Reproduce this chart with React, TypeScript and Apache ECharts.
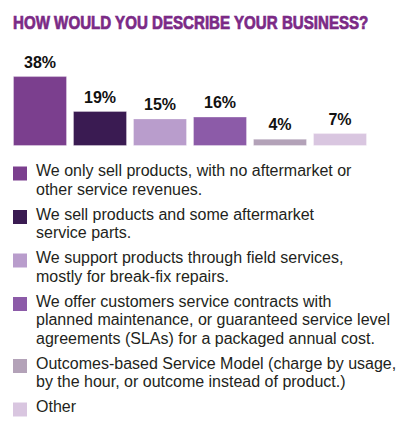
import React, { useEffect, useRef } from "react";
import * as echarts from "echarts";

const titleText = "HOW WOULD YOU DESCRIBE YOUR BUSINESS?";
const categories = [
  "Products only",
  "Products and parts",
  "Field services",
  "Service contracts",
  "Outcomes-based",
  "Other",
];
const values = [38, 19, 15, 16, 4, 7];
const barColors = ["#7b3f8e", "#3a1b52", "#b99dcc", "#8c5ba8", "#b3a2b8", "#d9c6e0"];
const legendLines = [
  ["We only sell products, with no aftermarket or", "other service revenues."],
  ["We sell products and some aftermarket", "service parts."],
  ["We support products through field services,", "mostly for break-fix repairs."],
  [
    "We offer customers service contracts with",
    "planned maintenance, or guaranteed service level",
    "agreements (SLAs) for a packaged annual cost.",
  ],
  [
    "Outcomes-based Service Model (charge by usage,",
    "by the hour, or outcome instead of product.)",
  ],
  ["Other"],
];

export default function App() {
  const ref = useRef<HTMLDivElement>(null);
  useEffect(() => {
    if (!ref.current) return;
    const chart = echarts.init(ref.current, undefined, { renderer: "svg" });

    const lineH = 18.5;
    const gap = 6.5;
    let center = 170.5;
    const legendGraphics: any[] = [];
    legendLines.forEach((lines, i) => {
      legendGraphics.push({
        type: "rect",
        shape: { x: 13, y: center - 4, width: 14, height: 14 },
        style: { fill: barColors[i] },
      });
      legendGraphics.push({
        type: "text",
        x: 36,
        y: center - lineH / 2,
        style: {
          text: lines.join("\n"),
          font: "16px 'Liberation Sans', Arial, sans-serif",
          fill: "#231f20",
          lineHeight: lineH,
          verticalAlign: "top",
          align: "left",
        },
      });
      center += lines.length * lineH + gap;
    });

    chart.setOption({
      animation: false,
      grid: { left: 10, width: 360, top: 72.4, height: 73.6 },
      xAxis: {
        type: "category",
        data: categories,
        show: false,
      },
      yAxis: { type: "value", min: 0, max: 40, show: false },
      series: [
        {
          type: "bar",
          barCategoryGap: "10%",
          data: values.map((v, i) => ({
            value: v,
            itemStyle: { color: barColors[i] },
          })),
          itemStyle: { borderColor: "rgba(255,255,255,0.3)", borderWidth: 1 },
          label: {
            show: true,
            position: "top",
            distance: 6,
            formatter: "{c}%",
            fontFamily: "'Liberation Sans', Arial, sans-serif",
            fontWeight: "bold",
            fontSize: 16,
            color: "#111111",
          },
        },
      ],
      graphic: [
        {
          type: "text",
          x: 13,
          y: 23,
          scaleX: 0.84,
          style: {
            text: titleText,
            font: "bold 18px 'Liberation Sans', Arial, sans-serif",
            fill: "#7b2a86",
            stroke: "#7b2a86",
            lineWidth: 0.7,
            verticalAlign: "middle",
            align: "left",
          },
        },
        ...legendGraphics,
      ],
    });
    return () => chart.dispose();
  }, []);
  return (
    <div
      ref={ref}
      style={{ position: "fixed", left: 0, top: 0, width: 400, height: 432, background: "#ffffff" }}
    />
  );
}
